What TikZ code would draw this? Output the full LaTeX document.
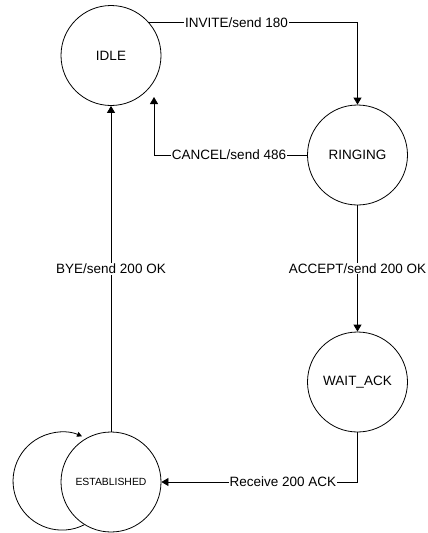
\documentclass[tikz,border=0pt]{standalone}
\usepackage{fontspec}
\setmainfont{Liberation Sans}
\usetikzlibrary{arrows.meta}

\begin{document}
\begin{tikzpicture}[x=1pt, y=-1pt, >={Triangle[length=7pt,width=8pt]}, line width=0.8pt,
    state/.style={draw, circle, minimum size=100pt, inner sep=0pt, font=\fontsize{13.5}{16}\selectfont},
    lbl/.style={fill=white, inner sep=1pt, font=\fontsize{13.5}{16}\selectfont}]
  \useasboundingbox (0,0) rectangle (428,533);
  % States
  \node[state] (IDLE) at (111,55.5) {IDLE};
  \node[state] (RINGING) at (357.5,155) {RINGING};
  \node[state] (WAIT) at (357.5,382) {WAIT\_ACK};
  \node[state, font=\fontsize{10.4}{12}\selectfont] (EST) at (111,482) {ESTABLISHED};
  \coordinate (cancelEnd) at (154,97);
  % Transitions
  \draw[->] (IDLE.41) -| (RINGING.north) node[lbl, pos=0.21] {INVITE/send 180};
  \draw[->] (RINGING.west) -| (cancelEnd) node[lbl, pos=0.255] {CANCEL/send 486};
  \draw[->] (RINGING.south) -- (WAIT.north) node[lbl, midway] {ACCEPT/send 200 OK};
  \draw[->] (WAIT.south) |- (EST.east) node[lbl, pos=0.69] {Receive 200 ACK};
  \draw[->] (EST.north) -- (IDLE.south) node[lbl, midway] {BYE/send 200 OK};
  % Self loop on ESTABLISHED
  \draw[-{Triangle[length=5pt,width=5pt]}] (EST.238) arc[start angle=63, end angle=294, radius=49];
\end{tikzpicture}
\end{document}
